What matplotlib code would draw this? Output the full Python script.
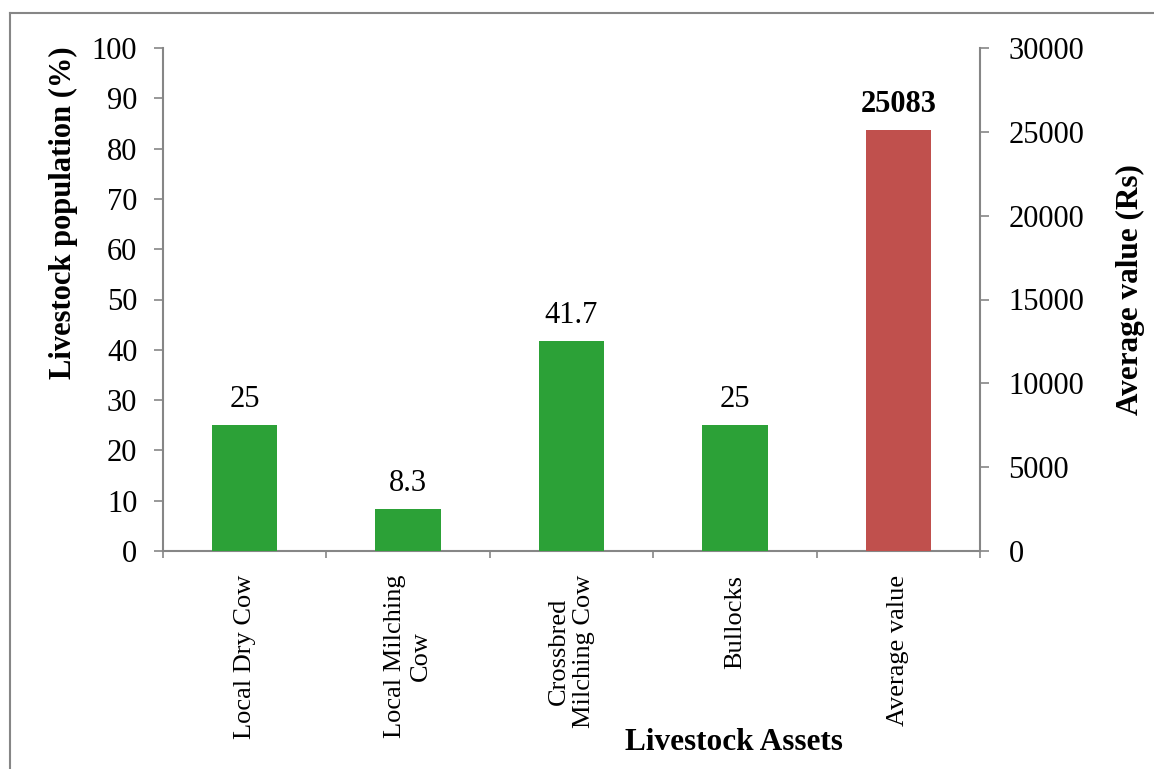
import matplotlib.pyplot as plt
from matplotlib.lines import Line2D

# ======= data =======
categories = ["Local Dry Cow", "Local Milching\nCow", "Crossbred\nMilching Cow", "Bullocks", "Average value"]
population = [25, 8.3, 41.7, 25]      # % (left axis)
pop_labels = ["25", "8.3", "41.7", "25"]
avg_value = [25083]                   # Rs (right axis)
avg_labels = ["25083"]

green = "#2ca137"
red = "#c0504d"
grey = "#868686"

plt.rcParams['font.family'] = ['Liberation Serif', 'DejaVu Serif']

fig = plt.figure(figsize=(11.54, 7.69), dpi=100)
ax = fig.add_axes([163/1154, 1 - 551/769, (980 - 163)/1154, (551 - 48)/769])
ax2 = ax.twinx()

# ======= bars =======
x_green = list(range(len(population)))
x_red = [len(population)]
b1 = ax.bar(x_green, population, width=0.4, color=green, zorder=3)
b2 = ax2.bar(x_red, avg_value, width=0.4, color=red, zorder=3)

for rect, lab in zip(b1, pop_labels):
    ax.annotate(lab, (rect.get_x() + rect.get_width()/2, rect.get_height()),
                xytext=(0, 8), textcoords='offset points', ha='center', va='bottom', fontsize=22)
for rect, lab in zip(b2, avg_labels):
    ax2.annotate(lab, (rect.get_x() + rect.get_width()/2, rect.get_height()),
                 xytext=(0, 8), textcoords='offset points', ha='center', va='bottom',
                 fontsize=22, fontweight='bold')

# ======= axes =======
ax.set_xlim(-0.5, len(categories) - 0.5)
ax.set_ylim(0, 100)
ax2.set_ylim(0, 30000)
ax.set_yticks(range(0, 101, 10))
ax2.set_yticks(range(0, 30001, 5000))

ax.set_xticks(range(len(categories)))
ax.set_xticklabels(categories, rotation=90, ha='center', va='top', multialignment='center', fontsize=19)
ax.set_xticks([i - 0.5 for i in range(len(categories) + 1)], minor=True)
ax.tick_params(axis='x', which='major', length=0, pad=17)
ax.tick_params(axis='x', which='minor', length=5, width=1.2, color=grey, direction='out')
ax.tick_params(axis='y', length=6.5, width=1.2, color=grey, direction='out', labelsize=22, pad=12)
ax2.tick_params(axis='y', length=6.5, width=1.2, color=grey, direction='out', labelsize=22, pad=14)

for a in (ax, ax2):
    a.spines['top'].set_visible(False)
    for s in ('left', 'right', 'bottom'):
        a.spines[s].set_color(grey)
        a.spines[s].set_linewidth(1.5)
ax.spines['right'].set_visible(False)
ax2.spines['left'].set_visible(False)
ax2.spines['bottom'].set_visible(False)

# ======= labels =======
fig.text(63/1154, 1 - 213/769, "Livestock population (%)", rotation=90, ha='center', va='center',
         fontsize=22, fontweight='bold')
fig.text(1130/1154, 1 - 290/769, "Average value (Rs)", rotation=90, ha='center', va='center',
         fontsize=22.5, fontweight='bold')
fig.text(734/1154, 1 - 742/769, "Livestock Assets", ha='center', va='center',
         fontsize=22.5, fontweight='bold')

# ======= frame around the chart =======
fig.add_artist(Line2D([10/1154, 10/1154], [0, 1 - 13/769], transform=fig.transFigure, color=grey, lw=1.5))
fig.add_artist(Line2D([10/1154, 1], [1 - 13/769, 1 - 13/769], transform=fig.transFigure, color=grey, lw=1.5))

fig.savefig("out.png", dpi=100)
